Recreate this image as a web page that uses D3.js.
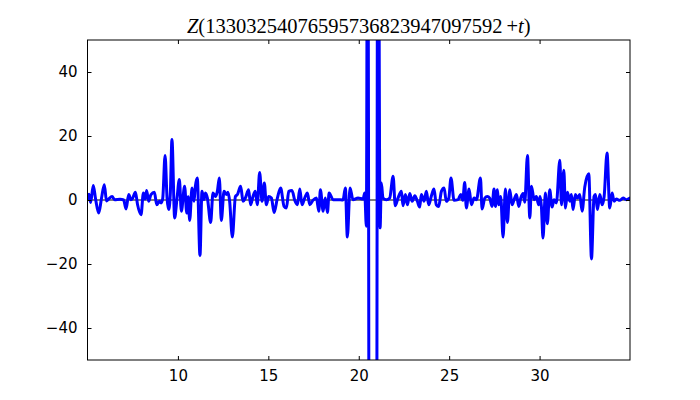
<!DOCTYPE html>
<html>
<head>
<meta charset="utf-8">
<script src="https://cdn.jsdelivr.net/npm/d3@7"></script>
<style>
  body { margin: 0; background: #fff; }
  text { fill: #000; }
</style>
</head>
<body>
<svg id="graph" width="700" height="400"></svg>
<script>
// values
const tValues = [
  5.0, 5.08, 5.17, 5.32, 5.45, 5.62, 5.77, 5.93, 6.05, 6.15, 6.36, 6.5, 6.8, 7.0,
  7.13, 7.28, 7.4, 7.5, 7.65, 7.77, 7.96, 8.09, 8.18, 8.27, 8.38, 8.51, 8.7, 8.83,
  8.97, 9.07, 9.16, 9.29, 9.4, 9.49, 9.58, 9.67, 9.82, 9.95, 10.08, 10.19, 10.37,
  10.49, 10.57, 10.65, 10.78, 10.89, 10.96, 11.07, 11.22, 11.33, 11.44, 11.52,
  11.63, 11.81, 11.94, 12.07, 12.18, 12.29, 12.4, 12.55, 12.68, 12.77, 12.86,
  13.01, 13.18, 13.29, 13.47, 13.6, 13.73, 13.91, 14.02, 14.15, 14.28, 14.39,
  14.52, 14.65, 14.78, 14.89, 15.02, 15.17, 15.32, 15.5, 15.68, 15.87, 16.0,
  16.13, 16.31, 16.46, 16.61, 16.74, 16.86, 17.01, 17.16, 17.29, 17.47, 17.66,
  17.79, 17.88, 18.03, 18.15, 18.27, 18.36, 18.58, 18.86, 19.13, 19.26, 19.37,
  19.52, 19.68, 19.96, 20.24, 20.33, 20.42, 20.5, 20.58, 20.78, 20.98, 21.06,
  21.18, 21.25, 21.34, 21.53, 21.71, 21.9, 22.02, 22.17, 22.36, 22.45, 22.58,
  22.69, 22.82, 22.95, 23.1, 23.24, 23.37, 23.46, 23.61, 23.74, 23.87, 24.02,
  24.16, 24.29, 24.42, 24.57, 24.72, 24.84, 24.98, 25.1, 25.27, 25.49, 25.64,
  25.75, 25.86, 25.95, 26.1, 26.23, 26.38, 26.51, 26.73, 26.82, 26.97, 27.11,
  27.24, 27.37, 27.48, 27.56, 27.67, 27.74, 27.85, 27.98, 28.11, 28.22, 28.35,
  28.48, 28.59, 28.72, 28.85, 28.96, 29.09, 29.18, 29.33, 29.46, 29.55, 29.7,
  29.82, 29.95, 30.03, 30.1, 30.19, 30.32, 30.43, 30.56, 30.69, 30.8, 30.93,
  31.12, 31.21, 31.34, 31.43, 31.54, 31.67, 31.76, 31.85, 31.98, 32.09, 32.22,
  32.35, 32.5, 32.72, 32.87, 33.01, 33.09, 33.2, 33.33, 33.46, 33.57, 33.73,
  33.88, 34.01, 34.12, 34.25, 34.43, 34.62, 34.8, 35.0
];
const zValues = [
  0.5, 1.8, -0.8, 4.5, 0.2, -4.1, 0.4, 4.8, -0.3, 0.2, 1.1, 0.1, 0.2, 0,
  -2.8, 1.7, 0.1, 0.6, 2.4, -1.5, -4.6, 2.2, 0.3, 3.0, -0.4, 1.7, 2.4, -1.5,
  -0.4, -0.9, 0.5, 13.9, 0.5, -3.0, 2, 18.9, -5.6, 0.5, 6.4, -3.5, 4.3,
  -4.1, 1, -6.4, 3.75, -0.4, 4.1, 6.9, -17.4, 2.7, 0.1, 2.2,
  0.6, -7.0, 2.2, 1.1, 2.7, 6.9, -6.4, 2.7, 1.7, 2.4, -0.4,
  -11.6, 1.1, 1.7, 4.3, -0.4, 0.6, 3.2, -1.5, 1.1, 2.7, -1.5,
  8.6, -0.4, 5.3, -1.5, 1.1, 0.6, -3.9, 0.6, 3.75, -2.0, -2.5,
  2.7, 3.0, -0.1, -1.5, 3.4, -1.5, 0.6, 2.2, -1.5, -0.1, 0.6,
  -3.5, 3.2, -3.5, 0.6, -3.9, 2.2, 0.1, 0.1, 0, 3.75, -11.6,
  3.75, 0.1, 0.6, 0.3, 2.2, -8.2, 150, -150, -400, -150, 150,
  -8.7, 5.3, 0.6, 0.1, 0.6, 7.4, -1.8, 0.6, 2.7, -1.8, 1.7,
  -1.5, 2.0, -0.4, 1.35, -0.4, -2.2, 1.7, -0.4, 2.7, -1.5, 1.35,
  3.4, -1.5, -2.0, 2.7, 3.75, -0.4, 0.6, 6.9, -0.1, 0.1, 1.7,
  -0.1, 5.5, -2.5, 3.4, -1.5, 0.6, 0.1, 6.9, -2.8, 0.6, 1.1,
  0.6, -2.0, 3.4, -2.0, 3.2, -1.5, 1.1, -11.6, 3.4, -7.0, 3.2,
  -1.5, 0.1, 1.7, -2.0, 0.6, 2.0, -0.7, 13.9, -5.6, 4.3, 0.1,
  1.1, -1.5, 1.1, -2.0, -11.9, 2.2, -7.4, 3.2, -2.2, 0.1, -0.9,
  12.4, -1.5, 9.3, -2.5, 2.4, -0.4, 1.7, -3.0, 1.7, 0.6, 1.7,
  -3.5, 4.1, 8.2, -18.4, 1.1, 1.7, -3.0, 1.7, -1.5, 1.1, 14.7,
  -2.5, 2.2, -0.4, 0.3, -0.1, 0.6, 0.1, 0.6
];
const xTicks = [10, 15, 20, 25, 30];
const yTicks = [-40, -20, 0, 20, 40];
const titleText = "13303254076595736823947097592";

const width = 700;
const height = 400;
const margin = { top: 40, right: 70, bottom: 40, left: 87.5 };

const svg = d3.select("#graph");

const x = d3.scaleLinear().domain([5, 35]).range([margin.left, width - margin.right]);
const y = d3.scaleLinear().domain([-50, 50]).range([height - margin.bottom, margin.top]);

const data = tValues.map((t, i) => ({ t: t, z: zValues[i] }));

svg.append("defs")
  .append("clipPath")
  .attr("id", "plot-clip")
  .append("rect")
  .attr("x", margin.left)
  .attr("y", margin.top)
  .attr("width", width - margin.left - margin.right)
  .attr("height", height - margin.top - margin.bottom);

const plot = svg.append("g").attr("clip-path", "url(#plot-clip)");

// zero line
plot.append("line")
  .attr("x1", margin.left)
  .attr("x2", width - margin.right)
  .attr("y1", y(0))
  .attr("y2", y(0))
  .attr("stroke", "#000")
  .attr("stroke-width", 1);

const line = d3.line()
  .x((d) => x(d.t))
  .y((d) => y(d.z))
  .curve(d3.curveMonotoneX);

plot.append("path")
  .datum(data)
  .attr("fill", "none")
  .attr("stroke", "#0000ff")
  .attr("stroke-width", 3)
  .attr("stroke-linejoin", "round")
  .attr("stroke-linecap", "round")
  .attr("d", line);

// axes, matplotlib classic style: ticks inside on all four sides
const fmt = (d) => (d < 0 ? "\u2212" + Math.abs(d) : String(d));

svg.append("g")
  .attr("transform", `translate(0,${height - margin.bottom})`)
  .call(d3.axisBottom(x).tickValues(xTicks).tickFormat(fmt).tickSizeInner(-4).tickSizeOuter(0).tickPadding(10))
  .call((g) => g.select(".domain").remove());

svg.append("g")
  .attr("transform", `translate(0,${margin.top})`)
  .call(d3.axisTop(x).tickValues(xTicks).tickFormat("").tickSizeInner(-4).tickSizeOuter(0))
  .call((g) => g.select(".domain").remove());

svg.append("g")
  .attr("transform", `translate(${margin.left},0)`)
  .call(d3.axisLeft(y).tickValues(yTicks).tickFormat(fmt).tickSizeInner(-4).tickSizeOuter(0).tickPadding(10))
  .call((g) => g.select(".domain").remove());

svg.append("g")
  .attr("transform", `translate(${width - margin.right},0)`)
  .call(d3.axisRight(y).tickValues(yTicks).tickFormat("").tickSizeInner(-4).tickSizeOuter(0))
  .call((g) => g.select(".domain").remove());

svg.selectAll(".tick line").attr("stroke", "#000");
svg.selectAll(".tick text")
  .attr("font-family", "DejaVu Sans, sans-serif")
  .attr("font-size", 15)
  .attr("fill", "#000");

svg.append("rect")
  .attr("x", margin.left)
  .attr("y", margin.top)
  .attr("width", width - margin.left - margin.right)
  .attr("height", height - margin.top - margin.bottom)
  .attr("fill", "none")
  .attr("stroke", "#000")
  .attr("stroke-width", 1);

// title
const title = svg.append("text")
  .attr("x", (margin.left + width - margin.right) / 2)
  .attr("y", 33)
  .attr("text-anchor", "middle")
  .attr("font-family", "Liberation Serif, serif")
  .attr("font-size", 20.5);
title.append("tspan").attr("font-style", "italic").text("Z");
title.append("tspan").text("(" + titleText + "\u2009+");
title.append("tspan").attr("font-style", "italic").text("t");
title.append("tspan").text(")");
</script>
</body>
</html>
